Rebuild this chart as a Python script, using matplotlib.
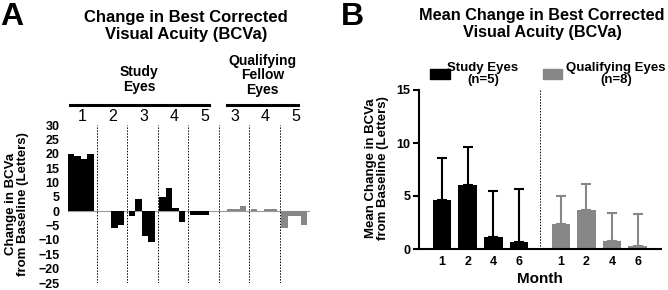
import numpy as np
import matplotlib
matplotlib.use("Agg")
import matplotlib.pyplot as plt

plt.rcParams['font.family'] = ['Liberation Sans', 'DejaVu Sans']

# ---- Panel A data: change per eye (4 visits each) ----
study_labels = ['1', '2', '3', '4', '5']
study_vals = [
    [20, 19.2, 18.3, 20],
    [0, 0, -5.7, -4.7],
    [-1.6, 4.1, -8.7, -10.7],
    [5, 8.1, 1.2, -3.7],
    [-1.4, -1.4, -1.4, 0],
]
fellow_labels = ['3', '4', '5']
fellow_vals = [
    [0.2, 0.8, 0.8, 1.9],
    [0.9, 0, 0.9, 0.9],
    [-5.8, -1.6, -1.6, -4.7],
]

# ---- Panel B data: mean change by month ----
months = ['1', '2', '4', '6']
study_mean = [4.6, 6.0, 1.1, 0.7]
study_err = [4.0, 3.6, 4.4, 5.0]
fellow_mean = [2.4, 3.7, 0.8, 0.25]
fellow_err = [2.6, 2.4, 2.6, 3.05]

BLACK = '#000000'
GRAY = '#878787'

fig = plt.figure(figsize=(6.68, 2.9), dpi=100)

# ---------------- Panel A ----------------
axA = fig.add_axes([68 / 668, 1 - 283 / 290, 242 / 668, (283 - 125) / 290])
period = 4.7
groups = [(v, BLACK) for v in study_vals] + [(v, GRAY) for v in fellow_vals]
for k, (vals, col) in enumerate(groups):
    xs = k * period + np.arange(len(vals))
    axA.bar(xs, vals, width=1.0, align='edge', color=col, linewidth=0)
    if k > 0:
        axA.axvline(k * period - 0.25, color='black', linestyle=(0, (1.5, 1.5)),
                    linewidth=0.7)
axA.axhline(0, color='#9a9a9a', linewidth=0.8, zorder=0)

for k, lab in enumerate(study_labels + fellow_labels):
    axA.text(k * period + 2.25, 32.8, lab, ha='center', va='center',
             fontsize=11.5, clip_on=False)

axA.plot([0.3, 21.7], [36.9, 36.9], color='black', lw=2.2, clip_on=False)
axA.plot([24.5, 35.4], [36.9, 36.9], color='black', lw=2.2, clip_on=False)
axA.text(11.0, 45.8, 'Study\nEyes', ha='center', va='center', fontsize=10,
         fontweight='bold', linespacing=1.1, clip_on=False)
axA.text(30.0, 47.3, 'Qualifying\nFellow\nEyes', ha='center', va='center',
         fontsize=10, fontweight='bold', linespacing=1.05, clip_on=False)

axA.set_xlim(0, 37.3)
axA.set_ylim(-25, 30)
axA.set_yticks(np.arange(-25, 31, 5))
axA.set_xticks([])
for s in axA.spines.values():
    s.set_visible(False)
axA.tick_params(axis='y', length=0, pad=6, labelsize=9)
for t in axA.get_yticklabels():
    t.set_fontweight('bold')

fig.text(17 / 668, 1 - 204 / 290, 'Change in BCVa\nfrom Baseline (Letters)',
         rotation=90, ha='center', va='center', fontsize=9.5,
         fontweight='bold', linespacing=1.1)
fig.text(186 / 668, 1 - 26 / 290, 'Change in Best Corrected\nVisual Acuity (BCVa)',
         ha='center', va='center', fontsize=12, fontweight='bold', linespacing=1.1)
fig.text(0 / 668, 1 - 17 / 290, 'A', ha='left', va='center', fontsize=23,
         fontweight='bold')

# ---------------- Panel B ----------------
axB = fig.add_axes([419 / 668, 1 - 249 / 290, 242 / 668, (249 - 90) / 290])
xs_s = np.arange(len(months))
xs_f = xs_s + 4.64
bw = 0.73
axB.bar(xs_s, study_mean, width=bw, color=BLACK, linewidth=0,
        yerr=[np.zeros(len(months)), study_err], ecolor=BLACK,
        error_kw=dict(elinewidth=1.5, capsize=3.5, capthick=1.5))
axB.bar(xs_f, fellow_mean, width=bw, color=GRAY, linewidth=0,
        yerr=[np.zeros(len(months)), fellow_err], ecolor=GRAY,
        error_kw=dict(elinewidth=1.5, capsize=3.5, capthick=1.5))
axB.axvline(3.82, color='black', linestyle=(0, (1.5, 1.5)), linewidth=0.7)

axB.set_xlim(-0.9, 8.55)
axB.set_ylim(0, 15)
axB.set_yticks([0, 5, 10, 15])
axB.set_xticks(np.concatenate([xs_s, xs_f]))
axB.set_xticklabels(months + months)
axB.spines['top'].set_visible(False)
axB.spines['right'].set_visible(False)
axB.spines['left'].set_linewidth(1.5)
axB.spines['bottom'].set_linewidth(1.5)
axB.tick_params(axis='y', length=4, width=1.5, labelsize=9, pad=2)
axB.tick_params(axis='x', length=0, labelsize=9, pad=5)
for t in axB.get_yticklabels() + axB.get_xticklabels():
    t.set_fontweight('bold')
axB.set_xlabel('Month', fontsize=11, fontweight='bold', labelpad=3)

fig.text(377 / 668, 1 - 168 / 290, 'Mean Change in BCVa\nfrom Baseline (Letters)',
         rotation=90, ha='center', va='center', fontsize=9.5,
         fontweight='bold', linespacing=1.1)
fig.text(542 / 668, 1 - 24 / 290, 'Mean Change in Best Corrected\nVisual Acuity (BCVa)',
         ha='center', va='center', fontsize=11.7, fontweight='bold', linespacing=1.1)
fig.text(341 / 668, 1 - 17 / 290, 'B', ha='left', va='center', fontsize=23,
         fontweight='bold')

# legend drawn by hand above the axes
fig.patches.append(plt.Rectangle((430 / 668, 1 - 79 / 290), 20 / 668, 10 / 290,
                                 color=BLACK, transform=fig.transFigure))
fig.patches.append(plt.Rectangle((543 / 668, 1 - 79 / 290), 19 / 668, 10 / 290,
                                 color=GRAY, transform=fig.transFigure))
fig.text(483 / 668, 1 - 74 / 290, 'Study Eyes\n(n=5)', ha='center', va='center',
         fontsize=9.5, fontweight='bold', linespacing=1.05)
fig.text(616 / 668, 1 - 74 / 290, 'Qualifying Eyes\n(n=8)', ha='center', va='center',
         fontsize=9.5, fontweight='bold', linespacing=1.05)

fig.savefig('out.png', dpi=100)
